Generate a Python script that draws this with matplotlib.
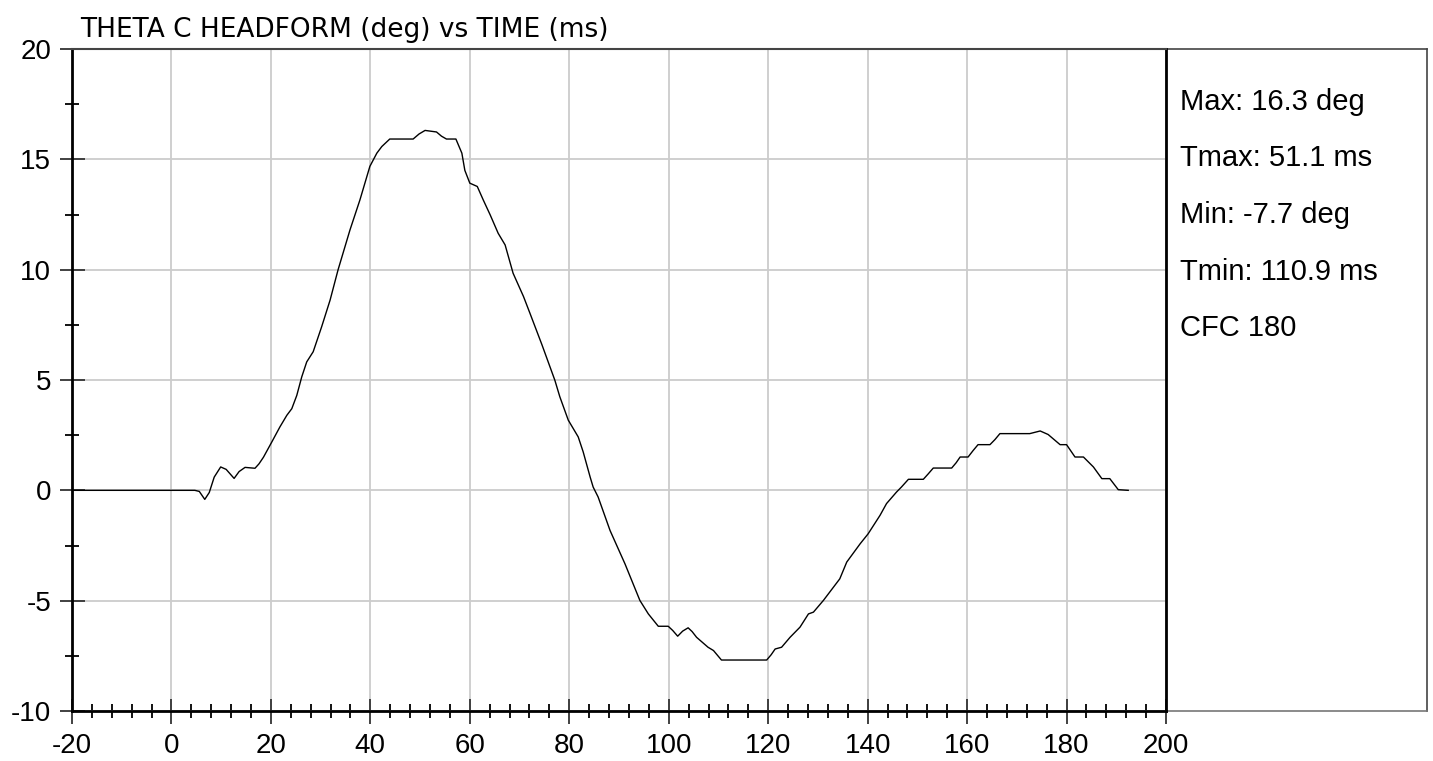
import numpy as np
import matplotlib
matplotlib.use("Agg")
import matplotlib.pyplot as plt
from matplotlib.ticker import MultipleLocator

# THETA C headform rotation (deg)
time_ms = [-20, 4.7, 5.6, 6.7, 7.6, 8.6, 9.9, 11.0, 12.6, 13.6, 14.8, 16.8, 17.6, 18.5,
           20.2, 21.8, 23.2, 24.2, 25.2, 26.2, 27.2, 28.5, 30.2, 31.9, 33.5, 35.9,
           37.9, 39.9, 41.3, 42.3, 43.9, 48.6, 49.8, 51.0, 53.3, 54.3, 55.3, 57.2,
           58.4, 59.0, 60.0, 61.5, 62.7, 64.1, 65.7, 67.1, 68.7, 70.8, 72.1, 74.5,
           77.1, 78.1, 79.8, 81.8, 82.8, 84.2, 84.8, 85.8, 88.2, 91.2, 94.2, 95.9,
           97.9, 99.9, 100.8, 101.8, 102.8, 103.9, 104.7, 105.6, 107.9, 109.0,
           110.6, 119.7, 120.6, 121.4, 122.7, 124.4, 126.4, 128.1, 129.1, 131.1,
           134.4, 135.8, 138.5, 140.1, 142.5, 143.8, 145.8, 146.8, 148.2, 151.2,
           152.2, 153.2, 156.9, 157.8, 158.6, 160.2, 161.2, 162.2, 164.6, 165.6,
           166.6, 172.6, 174.7, 176.3, 178.7, 180.0, 181.7, 183.4, 185.4, 187.1,
           188.7, 190.4, 192.4]
theta_deg = [0, 0, -0.05, -0.41, -0.1, 0.6, 1.06, 0.95, 0.54, 0.85, 1.04, 1.0, 1.2, 1.5,
             2.2, 2.87, 3.4, 3.7, 4.3, 5.14, 5.82, 6.28, 7.41, 8.62, 9.99, 11.8,
             13.16, 14.68, 15.28, 15.58, 15.92, 15.92, 16.15, 16.31, 16.24, 16.05,
             15.92, 15.92, 15.28, 14.5, 13.92, 13.77, 13.16, 12.48, 11.65, 11.12,
             9.84, 8.78, 8.02, 6.6, 4.99, 4.24, 3.18, 2.42, 1.74, 0.6, 0.15, -0.3,
             -1.82, -3.33, -4.99, -5.6, -6.16, -6.16, -6.35, -6.61, -6.38, -6.23,
             -6.4, -6.66, -7.11, -7.26, -7.69, -7.69, -7.45, -7.19, -7.11, -6.66,
             -6.2, -5.6, -5.52, -4.99, -4.01, -3.25, -2.42, -1.97, -1.13, -0.6,
             -0.08, 0.15, 0.5, 0.5, 0.75, 1.01, 1.01, 1.25, 1.51, 1.51, 1.8, 2.07,
             2.07, 2.3, 2.57, 2.57, 2.69, 2.53, 2.07, 2.07, 1.51, 1.51, 1.06, 0.53,
             0.53, 0.03, 0.0]

title = "THETA C HEADFORM (deg) vs TIME (ms)"
stats = ["Max: 16.3 deg", "Tmax: 51.1 ms", "Min: -7.7 deg", "Tmin: 110.9 ms", "CFC 180"]

plt.rcParams['font.family'] = ['Liberation Sans', 'DejaVu Sans']
plt.rcParams['axes.unicode_minus'] = False

W, H = 1433, 761
fig = plt.figure(figsize=(W / 100, H / 100), dpi=100)
x0, x1, y0, y1 = 72, 1166, 49, 711

# stats box on the right (drawn first, under the main axes)
bx = fig.add_axes([x1 / W, 1 - y1 / H, (1427 - x1) / W, (y1 - y0) / H])
bx.set_xticks([])
bx.set_yticks([])
bx.patch.set_alpha(0)
for s in bx.spines.values():
    s.set_color('#444444')
    s.set_linewidth(1.2)
bx.spines['left'].set_visible(False)
bx.spines['bottom'].set_color('#777777')

ax = fig.add_axes([x0 / W, 1 - y1 / H, (x1 - x0) / W, (y1 - y0) / H])
ax.patch.set_alpha(0)

ax.plot(time_ms, theta_deg, color='black', lw=1.0, zorder=3)
ax.set_xlim(-20, 200)
ax.set_ylim(-10, 20)

ax.xaxis.set_major_locator(MultipleLocator(20))
ax.xaxis.set_minor_locator(MultipleLocator(4))
ax.yaxis.set_major_locator(MultipleLocator(5))
ax.yaxis.set_minor_locator(MultipleLocator(2.5))
ax.grid(True, which='major', color='#cccccc', lw=1.3)
ax.set_axisbelow(True)

ax.tick_params(which='major', direction='inout', length=18, width=1.3,
               color='#333333', labelsize=20, pad=6)
ax.tick_params(which='minor', direction='inout', length=10, width=1.3, color='black')
ax.tick_params(axis='x', which='major', pad=7)

for s in ['left', 'bottom', 'right']:
    ax.spines[s].set_color('black')
    ax.spines[s].set_linewidth(2)
ax.spines['top'].set_color('#444444')
ax.spines['top'].set_linewidth(1.5)

fig.text(80 / W, 1 - 30 / H, title, fontsize=19, ha='left', va='center',
         family=['DejaVu Sans'])

for i, txt in enumerate(stats):
    fig.text(1180 / W, 1 - (102 + i * 56.5) / H, txt, fontsize=21,
             ha='left', va='center')

fig.savefig("out.png", dpi=100)
